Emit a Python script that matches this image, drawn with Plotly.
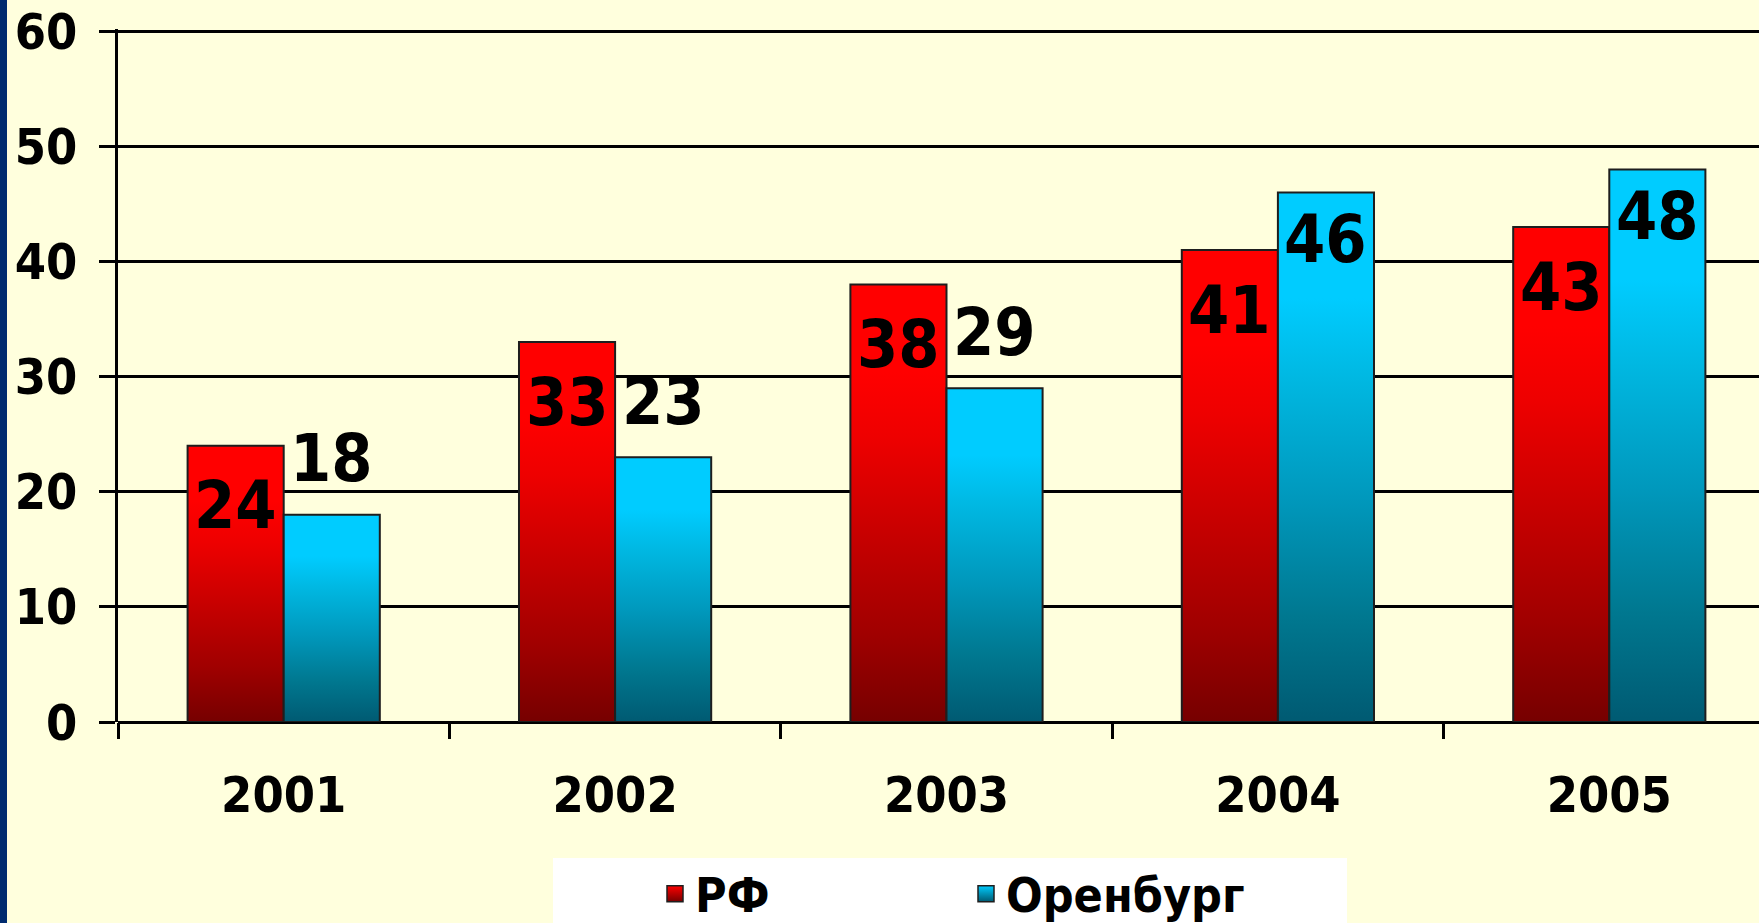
import plotly.graph_objects as go

# ---- data ----
years = ["2001", "2002", "2003", "2004", "2005"]
rf_values = [24, 33, 38, 41, 43]
orb_values = [18, 23, 29, 46, 48]
series_names = ["РФ", "Оренбург"]
y_ticks = [0, 10, 20, 30, 40, 50, 60]

# ---- style ----
FONT = "DejaVu Sans Condensed"
BG = "#FFFFDD"
BAR_W = 0.29
RF_SCALE = [[0, "#760000"], [0.2, "#a00000"], [0.42, "#c60000"],
            [0.65, "#ee0000"], [0.8, "#ff0000"], [1, "#ff0000"]]
ORB_SCALE = [[0, "#005a72"], [0.2, "#007890"], [0.42, "#0098bc"],
             [0.65, "#00b8e2"], [0.8, "#00ccff"], [1, "#00ccff"]]
EDGE = "#1e1e1e"

fig = go.Figure()


def add_bar(xc_left, value, scale):
    x0, x1 = xc_left, xc_left + BAR_W
    fig.add_trace(go.Scatter(
        x=[x0, x0, x1, x1, x0], y=[0, value, value, 0, 0],
        mode="lines", fill="toself",
        fillgradient=dict(type="vertical", colorscale=scale, start=0, stop=value),
        line=dict(color=EDGE, width=2),
        showlegend=False, hoverinfo="skip"))


for i, (r, o) in enumerate(zip(rf_values, orb_values)):
    add_bar(i - BAR_W, r, RF_SCALE)
    add_bar(i, o, ORB_SCALE)

# legend-only entries
for name, scale in zip(series_names, [RF_SCALE, ORB_SCALE]):
    fig.add_trace(go.Scatter(
        x=[None], y=[None], mode="markers", name=name,
        marker=dict(symbol="square", size=16, color=scale[-1][1],
                    gradient=dict(type="vertical", color=scale[0][1]),
                    line=dict(color=EDGE, width=1.5))))

# data labels
ann = []
for i, (r, o) in enumerate(zip(rf_values, orb_values)):
    ann.append(dict(x=i - BAR_W / 2, y=r, text=str(r), showarrow=False,
                    yanchor="middle", yshift=-60,
                    font=dict(family=FONT, size=66, color="black", weight="bold")))
    ann.append(dict(x=i + BAR_W / 2, y=o, text=str(o), showarrow=False,
                    yanchor="middle", yshift=(-47 if o > r else 56),
                    font=dict(family=FONT, size=66, color="black", weight="bold")))

W, H = 1759, 923
Y_TOP = 60.2
L, R, B = 118, 0, 201
T = 31 - (Y_TOP - 60) * (H - B - 31) / 60
pw, ph = W - L - R, H - T - B


def px(xpix):
    return (xpix - L) / pw


def py(ypix):
    return (H - B - ypix) / ph


shapes = [
    # left navy strip
    dict(type="rect", xref="paper", yref="paper", x0=px(-5), x1=px(7),
         y0=py(H + 5), y1=py(-5), fillcolor="#002b6f", line=dict(width=0), layer="above"),
    # legend white box
    dict(type="rect", xref="paper", yref="paper", x0=px(553), x1=px(1347),
         y0=py(H + 5), y1=py(858), fillcolor="white", line=dict(width=0), layer="above"),
]

fig.update_layout(
    width=W, height=H,
    margin=dict(l=L, r=R, t=T, b=B, pad=0, autoexpand=False),
    paper_bgcolor=BG, plot_bgcolor=BG,
    font=dict(family=FONT, color="black", weight="bold"),
    annotations=ann, shapes=shapes,
    showlegend=True,
    legend=dict(orientation="h", xref="container", yref="container",
                x=655 / W, y=1 - 856 / H, xanchor="left", yanchor="top",
                bgcolor="rgba(0,0,0,0)", entrywidth=266, entrywidthmode="pixels",
                font=dict(family=FONT, size=48, color="black", weight="bold")),
)

fig.update_xaxes(
    range=[-0.5, 4.5 - 16 / 331.5], tickmode="array",
    tickvals=list(range(len(years))), ticktext=years,
    ticks="", showgrid=False, zeroline=False,
    showline=False,
    tickfont=dict(family=FONT, size=50, color="black", weight="bold"),
    ticklabelstandoff=39,
    minor=dict(tickmode="array", tickvals=[k - 0.5 for k in range(len(years))],
               ticks="outside", ticklen=16, tickwidth=2.5, tickcolor="black", showgrid=False),
)
fig.update_yaxes(
    range=[0, Y_TOP], tickmode="array", tickvals=y_ticks,
    ticks="outside", ticklen=16, tickwidth=2.5, tickcolor="black",
    showgrid=True, gridcolor="black", gridwidth=2.5,
    zeroline=True, zerolinecolor="black", zerolinewidth=2.5,
    showline=True, linecolor="black", linewidth=2.5,
    tickfont=dict(family=FONT, size=50, color="black", weight="bold"),
    ticklabelstandoff=12,
)

fig.write_html(
    "out.html",
    config={"displayModeBar": False},
    post_script="document.body.style.margin='0';document.body.style.padding='0';"
                "document.documentElement.style.overflow='hidden';",
)
